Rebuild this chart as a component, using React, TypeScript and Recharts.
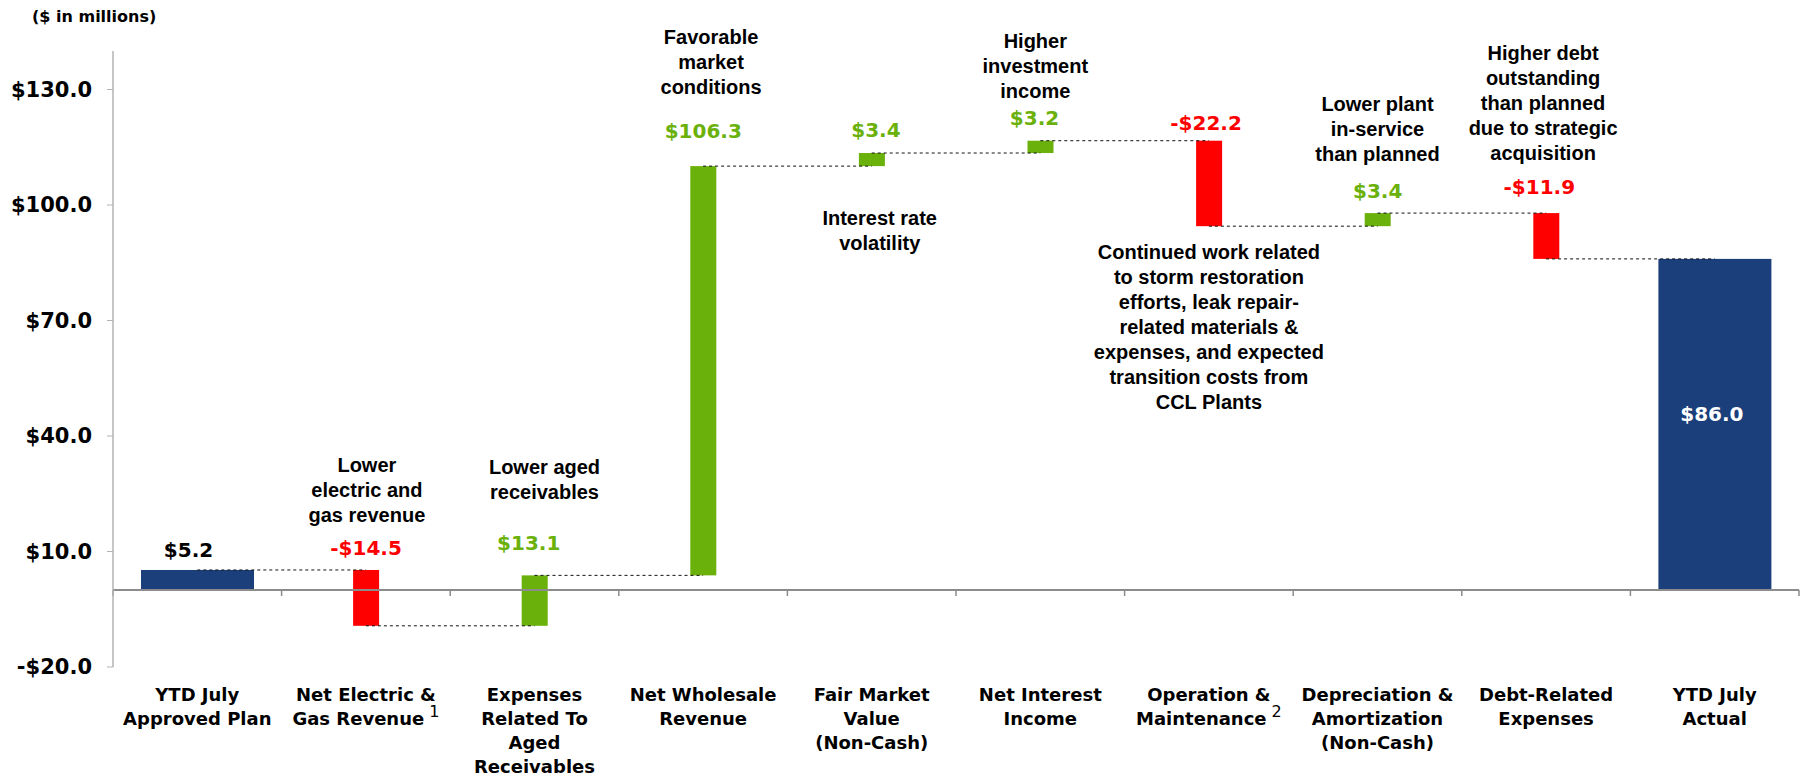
import React from 'react';
import { Bar, ComposedChart, LabelList, ReferenceDot, ReferenceLine, XAxis, YAxis } from 'recharts';

const NAVY = '#1a3f7b';
const GREEN = '#6bb10b';
const RED = '#ff0000';
const TAHOMA = '"DejaVu Sans", Verdana, sans-serif';
const ARIAL = '"Liberation Sans", Arial, sans-serif';

// categories (line breaks as in the slide)
const categories = [
  'YTD July\nApproved Plan',
  'Net Electric &\nGas Revenue',
  'Expenses\nRelated To\nAged\nReceivables',
  'Net Wholesale\nRevenue',
  'Fair Market\nValue\n(Non-Cash)',
  'Net Interest\nIncome',
  'Operation &\nMaintenance',
  'Depreciation &\nAmortization\n(Non-Cash)',
  'Debt-Related\nExpenses',
  'YTD July\nActual',
];
const footnotes = ['', '1', '', '', '', '', '2', '', '', ''];

// $ in millions
const changes = [5.2, -14.5, 13.1, 106.3, 3.4, 3.2, -22.2, 3.4, -11.9, 86.0];
const isTotal = [true, false, false, false, false, false, false, false, false, true];
const valueLabels = ['$5.2', '-$14.5', '$13.1', '$106.3', '$3.4', '$3.2', '-$22.2', '$3.4', '-$11.9', '$86.0'];

const yTicks = [-20, 10, 40, 70, 100, 130];

const notes = [
  { cat: 1, lines: ['Lower', 'electric and', 'gas revenue'] },
  { cat: 2, lines: ['Lower aged', 'receivables'] },
  { cat: 3, lines: ['Favorable', 'market', 'conditions'] },
  { cat: 4, lines: ['Interest rate', 'volatility'] },
  { cat: 5, lines: ['Higher', 'investment', 'income'] },
  {
    cat: 6,
    lines: [
      'Continued work related',
      'to storm restoration',
      'efforts, leak repair-',
      'related materials &',
      'expenses, and expected',
      'transition costs from',
      'CCL Plants',
    ],
  },
  { cat: 7, lines: ['Lower plant', 'in-service', 'than planned'] },
  { cat: 8, lines: ['Higher debt', 'outstanding', 'than planned', 'due to strategic', 'acquisition'] },
];

// layout tweaks (px / data units), kept apart from the data
const noteTop = [32.4, 31.9, 143.6, 96.6, 142.6, 87.8, 126.2, 139.5];
const noteDx = [1, 10, 8, 8, -5, 0, 0, -3];
const labelLift = [20, 22, 32, 35, 23, 23, 18, 22, 26, -155];
const labelDx = [-9, 0, -6, 0, 4, -6, -3, 0, -7, -3];

let running = 0;
const rows = categories.map((name, i) => {
  let range: [number, number];
  if (isTotal[i]) {
    running = changes[i];
    range = [0, changes[i]];
  } else {
    const start = running;
    running = start + changes[i];
    range = [Math.min(start, running), Math.max(start, running)];
  }
  return { name, range, level: running };
});

const barColor = (i: number) => (isTotal[i] ? NAVY : changes[i] > 0 ? GREEN : RED);
const labelColor = (i: number) => (i === 0 ? '#000' : i === categories.length - 1 ? '#fff' : barColor(i));

const fmtY = (v: number) => (v < 0 ? `-$${Math.abs(v).toFixed(1)}` : `$${v.toFixed(1)}`);

const CategoryTick = (props: any) => {
  const { x, y, payload } = props;
  const idx = categories.indexOf(payload.value);
  const lines = String(payload.value).split('\n');
  return (
    <text x={x} y={y + 34} textAnchor="middle" fontFamily={TAHOMA} fontSize={18} fontWeight="bold" fill="#000">
      {lines.map((line, k) => (
        <tspan key={k} x={x} dy={k === 0 ? 0 : 24}>
          {line}
          {k === lines.length - 1 && footnotes[idx] ? (
            <tspan dx={5} dy={-8} fontSize={16} fontWeight="normal">
              {footnotes[idx]}
            </tspan>
          ) : null}
        </tspan>
      ))}
    </text>
  );
};

const WaterfallBar = (props: any) => {
  const { x, y, width, height, index } = props;
  const w = isTotal[index] ? width : 26;
  const top = Math.min(y, y + height);
  return <rect x={x + (width - w) / 2} y={top} width={w} height={Math.abs(height)} fill={barColor(index)} />;
};

const ValueLabel = (props: any) => {
  const vb = props.viewBox ?? props;
  const { x, y, width, height } = vb;
  const index = props.index;
  const top = Math.min(y, y + height);
  return (
    <text
      x={x + width / 2 + labelDx[index]}
      y={top - labelLift[index] + 7}
      textAnchor="middle"
      fontFamily={TAHOMA}
      fontSize={20}
      fontWeight="bold"
      fill={labelColor(index)}
    >
      {valueLabels[index]}
    </text>
  );
};

const ZeroAxis = (props: any) => {
  const { x1, y1, x2 } = props;
  const n = categories.length;
  const step = (x2 - x1) / n;
  return (
    <g>
      <line x1={x1} y1={y1} x2={x2} y2={y1} stroke="#8c8c8c" strokeWidth={2} />
      {Array.from({ length: n + 1 }, (_, i) => (
        <line key={i} x1={x1 + step * i} y1={y1} x2={x1 + step * i} y2={y1 + 6} stroke="#8c8c8c" strokeWidth={1.5} />
      ))}
    </g>
  );
};

const noteShape = (lines: string[], dx: number) => (p: any) => (
  <text x={p.cx + dx} y={p.cy + 7} textAnchor="middle" fontFamily={ARIAL} fontSize={20} fontWeight="bold" fill="#000">
    {lines.map((line, k) => (
      <tspan key={k} x={p.cx + dx} dy={k === 0 ? 0 : 25}>
        {line}
      </tspan>
    ))}
  </text>
);

export default function App() {
  return (
    <div style={{ position: 'absolute', left: 0, top: 0, width: 1801, height: 778, background: '#fff' }}>
      <div
        style={{
          position: 'absolute',
          left: 32,
          top: 7,
          fontFamily: TAHOMA,
          fontWeight: 'bold',
          fontSize: 16,
          lineHeight: '20px',
          color: '#000',
        }}
      >
        ($ in millions)
      </div>
      <ComposedChart width={1801} height={778} data={rows} margin={{ top: 51, right: 2, left: 8, bottom: 11 }}>
        <XAxis
          dataKey="name"
          interval={0}
          axisLine={false}
          tickLine={false}
          tickSize={0}
          tickMargin={0}
          height={100}
          tick={<CategoryTick />}
        />
        <YAxis
          type="number"
          domain={[-20, 140]}
          ticks={yTicks}
          interval={0}
          width={105}
          tickFormatter={fmtY}
          axisLine={{ stroke: '#b3b3b3', strokeWidth: 1.5 }}
          tickLine={{ stroke: '#b3b3b3' }}
          tickSize={6}
          tickMargin={15}
          tick={{ fill: '#000', fontFamily: TAHOMA, fontSize: 21, fontWeight: 'bold' }}
        />
        <Bar dataKey="range" barSize={113} shape={<WaterfallBar />} isAnimationActive={false}>
          <LabelList dataKey="range" content={<ValueLabel />} />
        </Bar>
        <ReferenceLine y={0} shape={<ZeroAxis />} ifOverflow="visible" />
        {rows.slice(0, -1).map((r, i) => (
          <ReferenceLine
            key={`c${i}`}
            segment={[
              { x: r.name, y: r.level },
              { x: rows[i + 1].name, y: r.level },
            ]}
            stroke="#111"
            strokeWidth={1}
            strokeDasharray="3 3"
            ifOverflow="visible"
          />
        ))}
        {notes.map((n, i) => (
          <ReferenceDot
            key={`n${i}`}
            x={categories[n.cat]}
            y={noteTop[i]}
            r={0}
            ifOverflow="visible"
            shape={noteShape(n.lines, noteDx[i])}
          />
        ))}
      </ComposedChart>
    </div>
  );
}
